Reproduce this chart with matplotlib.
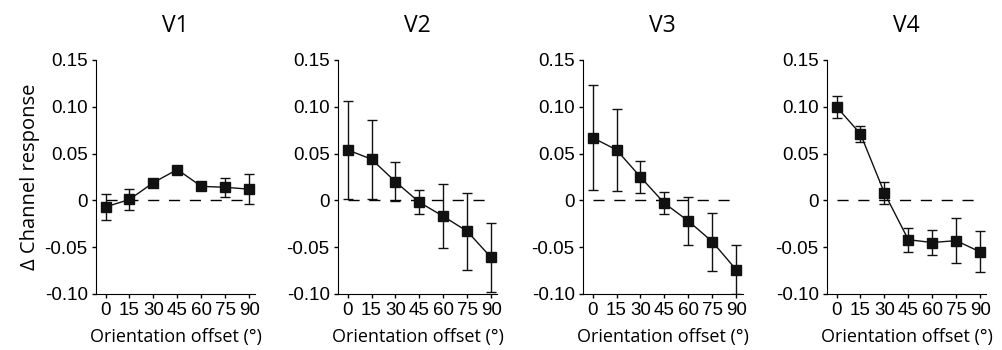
import matplotlib
matplotlib.use("Agg")
import matplotlib.pyplot as plt
import numpy as np

plt.rcParams['font.family'] = ['Open Sans', 'DejaVu Sans']

offsets = [0, 15, 30, 45, 60, 75, 90]
titles = ['V1', 'V2', 'V3', 'V4']

v1 = [-0.007, 0.001, 0.019, 0.033, 0.015, 0.014, 0.012]
v1_err = [0.014, 0.011, 0.003, 0.003, 0.003, 0.010, 0.016]
v2 = [0.054, 0.044, 0.020, -0.002, -0.017, -0.033, -0.061]
v2_err = [0.052, 0.042, 0.021, 0.013, 0.034, 0.041, 0.037]
v3 = [0.067, 0.054, 0.025, -0.003, -0.022, -0.044, -0.074]
v3_err = [0.056, 0.044, 0.017, 0.012, 0.026, 0.031, 0.026]
v4 = [0.100, 0.071, 0.008, -0.042, -0.045, -0.043, -0.055]
v4_err = [0.012, 0.009, 0.012, 0.013, 0.013, 0.024, 0.022]

means = [v1, v2, v3, v4]
errs = [v1_err, v2_err, v3_err, v4_err]

yticks = [-0.10, -0.05, 0, 0.05, 0.10, 0.15]
ytick_labels = ['-0.10', '-0.05', '0', '0.05', '0.10', '0.15']

fig = plt.figure(figsize=(10.03, 3.5), dpi=100)
lefts = [0.0957, 0.337, 0.5813, 0.8245]

for i in range(4):
    ax = fig.add_axes([lefts[i], 0.16, 0.159, 0.6686])
    ax.plot([0, 90], [0, 0], color='k', lw=1, dashes=(8, 7))
    ax.errorbar(offsets, means[i], yerr=errs[i], color='#111111', lw=1,
                marker='s', markersize=6.5, capsize=3.5, elinewidth=1,
                capthick=1)
    ax.set_xlim(-6, 94)
    ax.set_ylim(-0.10, 0.15)
    ax.set_xticks(offsets)
    ax.set_xticklabels([str(o) for o in offsets])
    ax.set_yticks(yticks)
    ax.set_yticklabels(ytick_labels)
    for s in ['top', 'right']:
        ax.spines[s].set_visible(False)
    ax.tick_params(direction='out', length=3, width=1, pad=3)
    for lab in ax.get_xticklabels() + ax.get_yticklabels():
        lab.set_fontfamily(['Liberation Sans', 'DejaVu Sans'])
        lab.set_fontsize(13.5)
    ax.set_title(titles[i], fontsize=16.5, pad=20)
    ax.set_xlabel('Orientation offset (°)', fontsize=13, labelpad=6)
    if i == 0:
        ax.set_ylabel('Δ Channel response', fontsize=14.5, labelpad=3)

plt.savefig("out.png", dpi=100)
